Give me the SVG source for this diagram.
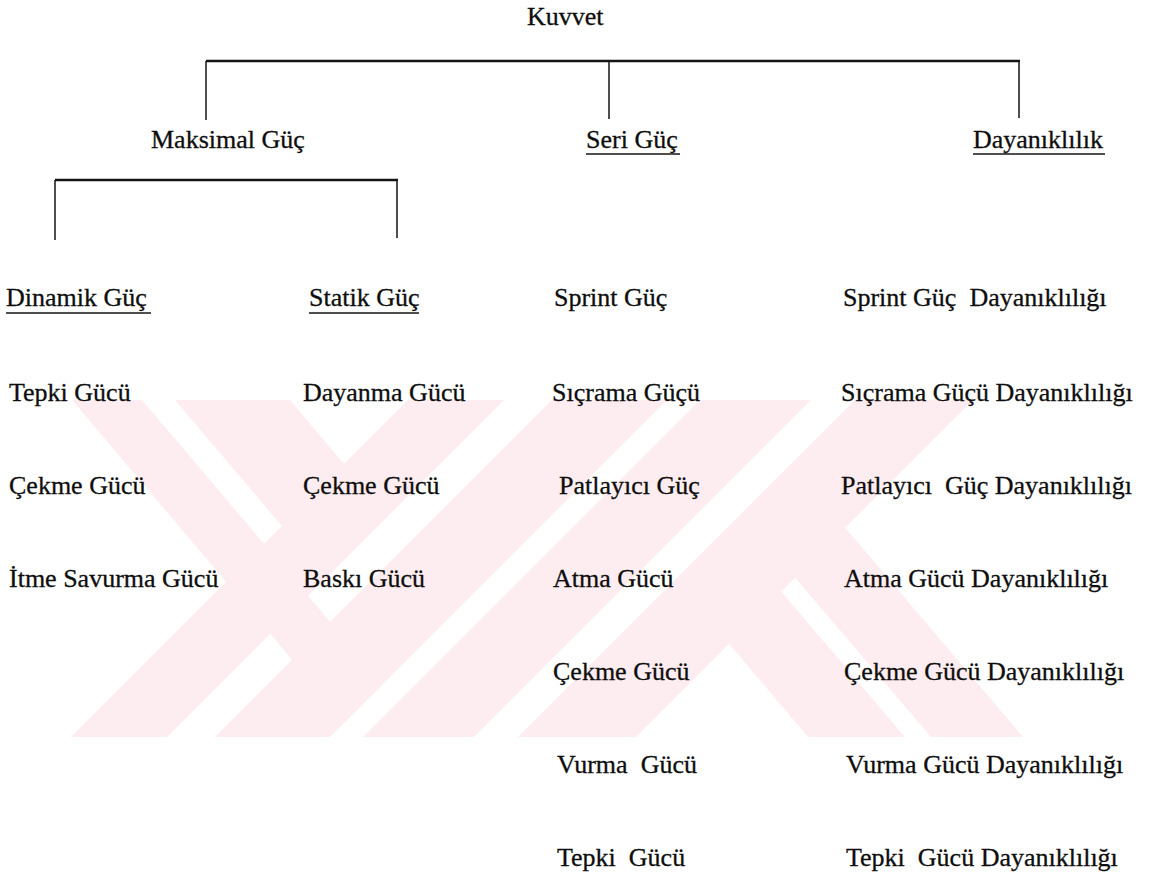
<svg xmlns="http://www.w3.org/2000/svg" width="1154" height="878" viewBox="0 0 1154 878">
<style>
  text { font-family: "Liberation Serif", "Times New Roman", serif; font-size: 26px; fill: #0e0e0e; stroke: #0e0e0e; stroke-width: 0.3; white-space: pre; }
  .wm { fill: #fdedf0; stroke: none; }
  .conn { stroke: #141414; fill: none; }
  .h { stroke-width: 2.5; }
  .v { stroke-width: 1.5; }
  .ul { stroke: #141414; stroke-width: 1.6; }
</style>
<rect width="1154" height="878" fill="#ffffff"/>
<g id="watermark" class="wm">
  <polygon points="408,400 504,400 167,737 71,737"/>
  <polygon points="552,400 667,400 330,737 215,737"/>
  <polygon points="700,400 811,400 474,737 363,737"/>
  <polygon points="855,400 973,400 636,737 518,737"/>
  <polygon points="72,400 142,400 383,684 345,722"/>
  <polygon points="175,400 290,400 388,516 326,578"/>
  <polygon points="808,737 905,737 727,528 675,580"/>
  <polygon points="931,737 1023,737 791,464 741,514"/>
</g>
<g id="connectors" class="conn">
  <path class="h" d="M206 61 H1020"/>
  <path class="v" d="M206 61 V120 M609 61 V119 M1019 61 V118"/>
  <path class="h" d="M55 180 H398"/>
  <path class="v" d="M55 180 V240 M397 180 V238"/>
</g>
<g id="kuvvet"><text x="527" y="25">Kuvvet</text></g>
<g id="maksimal"><text x="151" y="148">Maksimal Güç</text></g>
<g id="seri"><text x="586" y="148">Seri Güç</text><line class="ul" x1="586" y1="154" x2="680" y2="154"/></g>
<g id="dayaniklilik"><text x="973" y="148">Dayanıklılık</text><line class="ul" x1="973" y1="154" x2="1105" y2="154"/></g>

<g id="dinamik"><text x="6" y="306">Dinamik Güç</text><line class="ul" x1="6" y1="313" x2="151" y2="313"/></g>
<g id="statik"><text x="309" y="306">Statik Güç</text><line class="ul" x1="309" y1="313" x2="419" y2="313"/></g>
<g id="sprint"><text x="554" y="306">Sprint Güç</text></g>
<g id="sprint-d"><text x="843" y="306">Sprint Güç  Dayanıklılığı</text></g>

<g id="tepki1"><text x="9" y="401">Tepki Gücü</text></g>
<g id="dayanma"><text x="303" y="401">Dayanma Gücü</text></g>
<g id="sicrama"><text x="552" y="401">Sıçrama Güçü</text></g>
<g id="sicrama-d"><text x="841" y="401">Sıçrama Güçü Dayanıklılığı</text></g>

<g id="cekme1"><text x="9" y="494">Çekme Gücü</text></g>
<g id="cekme2"><text x="303" y="494">Çekme Gücü</text></g>
<g id="patlayici"><text x="559" y="494">Patlayıcı Güç</text></g>
<g id="patlayici-d"><text x="841" y="494">Patlayıcı  Güç Dayanıklılığı</text></g>

<g id="itme"><text x="9" y="587">İtme Savurma Gücü</text></g>
<g id="baski"><text x="303" y="587">Baskı Gücü</text></g>
<g id="atma"><text x="553" y="587">Atma Gücü</text></g>
<g id="atma-d"><text x="844" y="587">Atma Gücü Dayanıklılığı</text></g>

<g id="cekme3"><text x="553" y="680">Çekme Gücü</text></g>
<g id="cekme3-d"><text x="844" y="680">Çekme Gücü Dayanıklılığı</text></g>

<g id="vurma"><text x="557" y="773">Vurma  Gücü</text></g>
<g id="vurma-d"><text x="846" y="773">Vurma Gücü Dayanıklılığı</text></g>

<g id="tepki3"><text x="557" y="866">Tepki  Gücü</text></g>
<g id="tepki3-d"><text x="846" y="866">Tepki  Gücü Dayanıklılığı</text></g>
</svg>
